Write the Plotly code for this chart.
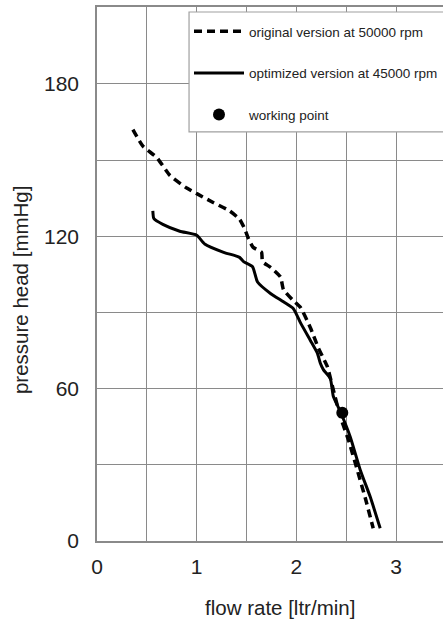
import plotly.graph_objects as go

# original version at 50000 rpm (dashed)
orig_x = [0.36, 0.46, 0.60, 0.73, 0.90, 1.01, 1.16, 1.33, 1.43, 1.48, 1.52, 1.565, 1.65, 1.66,
          1.74, 1.84, 1.87, 1.96, 2.04, 2.14, 2.22, 2.27, 2.31, 2.38, 2.44, 2.52, 2.61, 2.69, 2.77]
orig_y = [162, 155.5, 151, 144, 139, 136.6, 133.4, 130, 126.7, 123, 119, 115.7, 113.7, 110,
          107.8, 104, 99, 95, 92, 84, 76, 72, 68.7, 58, 49, 40, 28, 17, 5]

# optimized version at 45000 rpm (solid)
opt_x = [0.56, 0.57, 0.66, 0.83, 1.0, 1.08, 1.27, 1.43, 1.47, 1.56, 1.61, 1.74, 1.87, 1.97,
         2.04, 2.14, 2.21, 2.24, 2.27, 2.34, 2.37, 2.44, 2.54, 2.64, 2.74, 2.84]
opt_y = [130, 127, 124.7, 122, 120.4, 117, 113.7, 111.7, 110, 108, 102, 97.5, 94.2, 91.5,
         86, 79, 74, 70, 67.5, 64, 57, 51, 41, 28, 17.4, 5]

# working point
wp_x = [2.46]
wp_y = [50.5]

x_ticks = [0, 0.5, 1, 1.5, 2, 2.5, 3]
x_labels = ["0", "", "1", "", "2", "", "3"]
y_ticks = [0, 30, 60, 90, 120, 150, 180, 210]
y_labels = ["0", "", "60", "", "120", "", "180", ""]

FONT = "Liberation Sans, Arial, sans-serif"
GRID = "#8a8a8a"

fig = go.Figure()
fig.add_trace(go.Scatter(x=orig_x, y=orig_y, mode="lines", name="original version at 50000 rpm",
                         line=dict(color="black", width=3.5, dash="8px,5px", shape="spline",
                                   smoothing=0.5), legendgroup="a"))
fig.add_trace(go.Scatter(x=opt_x, y=opt_y, mode="lines", name="optimized version at 45000 rpm",
                         line=dict(color="black", width=3, shape="spline", smoothing=0.5),
                         legendgroup="b"))
fig.add_trace(go.Scatter(x=wp_x, y=wp_y, mode="markers", name="working point",
                         marker=dict(color="black", size=12), legendgroup="c"))

fig.update_layout(
    width=443, height=620,
    margin=dict(l=97, r=0, t=7, b=79),
    paper_bgcolor="white", plot_bgcolor="white",
    font=dict(family=FONT, color="#222", size=20),
    showlegend=True,
    legend=dict(x=0.266, y=0.983, xanchor="left", yanchor="top",
                bgcolor="rgba(0,0,0,0)", borderwidth=0,
                font=dict(size=13.5, family=FONT, color="#222"),
                itemwidth=50, tracegroupgap=21),
    shapes=[dict(type="rect", xref="paper", yref="paper",
                 x0=0.266, x1=1.02, y0=0.766, y1=0.9906,
                 line=dict(color="#a0a0a0", width=1.2), fillcolor="white", layer="above")],
    xaxis=dict(range=[0, 3.47], tickvals=x_ticks, ticktext=x_labels,
               showgrid=True, gridcolor=GRID, gridwidth=1.3,
               showline=True, linecolor=GRID, linewidth=1.5, mirror=True,
               zeroline=False, ticks="", ticklabelstandoff=6,
               tickfont=dict(size=21)),
    yaxis=dict(range=[0, 210.3], tickvals=y_ticks, ticktext=y_labels,
               showgrid=True, gridcolor=GRID, gridwidth=1.3,
               showline=True, linecolor=GRID, linewidth=1.5,
               zeroline=False, ticks="", ticklabelstandoff=12,
               tickfont=dict(size=21)),
    annotations=[
        dict(text="flow rate [ltr/min]", xref="paper", yref="paper",
             x=0.529, y=-0.1236, showarrow=False, font=dict(size=20.5),
             xanchor="center", yanchor="middle"),
        dict(text="pressure head [mmHg]", xref="paper", yref="paper",
             x=-0.2225, y=0.470, showarrow=False, font=dict(size=20.5),
             textangle=-90, xanchor="center", yanchor="middle"),
    ],
)

fig.write_html("out.html")
